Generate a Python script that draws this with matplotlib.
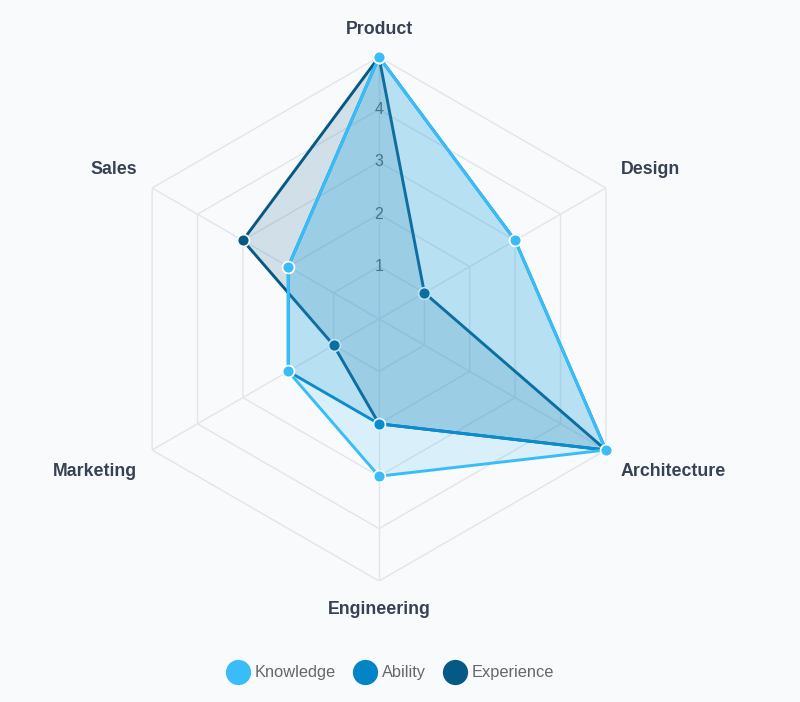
import matplotlib.pyplot as plt
import numpy as np

plt.rcParams['font.family'] = ['Liberation Sans', 'DejaVu Sans']

## Data
categories = ['Product', 'Design', 'Architecture', 'Engineering', 'Marketing', 'Sales']
knowledge = [5, 3, 5, 3, 2, 2]
ability = [5, 3, 5, 2, 2, 2]
experience = [5, 1, 5, 2, 1, 3]
series_names = ['Knowledge', 'Ability', 'Experience']
tick_values = [1, 2, 3, 4]

colors = ['#38bdf8', '#0284c7', '#075985']
bg = '#f8fafc'
grid_color = '#e2e5ea'

## Geometry (pixels)
W, H = 800, 702
cx, cy, R = 379, 319, 262

fig = plt.figure(figsize=(W / 100, H / 100), dpi=100, facecolor=bg)

# overlay in pixel coords for the legend
pix = fig.add_axes([0, 0, 1, 1])
pix.set_xlim(0, W)
pix.set_ylim(H, 0)
pix.axis('off')

ax = fig.add_axes([(cx - R) / W, (H - cy - R) / H, 2 * R / W, 2 * R / H],
                  projection='polar')
ax.set_facecolor('none')
ax.set_theta_offset(np.pi / 2)
ax.set_theta_direction(-1)
ax.set_ylim(0, 5)
ax.grid(False)
ax.set_xticks([])
ax.set_yticks([])
ax.spines['polar'].set_visible(False)

n = len(categories)
theta = np.arange(n) * 2 * np.pi / n
theta_closed = np.append(theta, theta[0])

# hexagon grid + spokes
for r in range(1, 6):
    ax.plot(theta_closed, [r] * (n + 1), color=grid_color, lw=1, zorder=1)
for t in theta:
    ax.plot([t, t], [0, 5], color=grid_color, lw=1, zorder=1)

# tick labels on the Product spoke (drawn under the fills)
for v in tick_values:
    ax.text(0, v, str(v), ha='center', va='center', fontsize=11.5,
            color='#666666', zorder=2)

# datasets: first one on top
all_series = [knowledge, ability, experience]
for i in reversed(range(len(all_series))):
    vals = np.append(all_series[i], all_series[i][0])
    z = 3 + (len(all_series) - i) * 2
    ax.fill(theta_closed, vals, color=colors[i], alpha=0.16, lw=0, zorder=z)
    ax.plot(theta_closed, vals, color=colors[i], lw=2.1, zorder=z + 1,
            marker='o', markersize=8.5, markerfacecolor=colors[i],
            markeredgecolor='white', markeredgewidth=1.2, clip_on=False)

# category labels
offsets = [(0, 27, 'center'), (15, 19, 'left'), (15, -21, 'left'),
           (0, -29, 'center'), (-15, -21, 'right'), (-15, 19, 'right')]
for t, lab, (dx, dy, ha) in zip(theta, categories, offsets):
    ax.annotate(lab, xy=(t, 5), xytext=(dx, dy), textcoords='offset pixels',
                ha=ha, va='center', fontsize=12.8, fontweight='bold',
                color='#374151', annotation_clip=False)

# legend
leg_x = [238, 365, 455]
for x, name, c in zip(leg_x, series_names, colors):
    pix.scatter([x], [672], s=330, color=c, lw=0)
    pix.text(x + 17, 672, name, ha='left', va='center',
             fontsize=11.8, color='#666666')

fig.savefig('out.png', dpi=100, facecolor=bg)
